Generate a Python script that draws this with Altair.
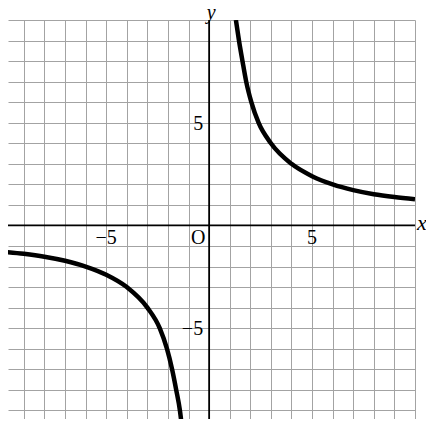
import altair as alt
import pandas as pd

# Curve (two branches)
upper_x = [1.3, 1.45, 1.62, 1.8, 2.05, 2.4, 3.0, 4.0, 5.0, 6.0, 7.0, 8.0, 9.0, 10.0]
upper_y = [10.0, 9.0, 8.0, 7.0, 6.0, 5.0, 4.0, 3.0, 2.4, 2.0, 1.72, 1.52, 1.38, 1.27]
lower_x = [-10.0, -9.0, -8.0, -7.0, -6.0, -5.0, -4.0, -3.0, -2.4, -2.05, -1.8, -1.6, -1.42, -1.3]
lower_y = [-1.28, -1.38, -1.52, -1.72, -2.0, -2.4, -3.0, -4.0, -5.0, -6.0, -7.0, -8.0, -9.0, -10.0]

x_grid = list(range(-9, 11))
y_grid = list(range(-9, 11))
x_tick_values = [-5, 5]
x_tick_labels = ["−5", "5"]
y_tick_values = [5, -5]
y_tick_labels = ["5", "−5"]
origin_label = "O"
x_name = "x"
y_name = "y"

curve = pd.DataFrame({
    "x": upper_x + lower_x,
    "y": upper_y + lower_y,
    "branch": ["upper"] * len(upper_x) + ["lower"] * len(lower_x),
})

# visible window of the [-10, 10] x [-10, 10] grid
xs = alt.Scale(domain=[-9.77, 10], nice=False, zero=False)
ys = alt.Scale(domain=[-9.42, 10], nice=False, zero=False)
grid_style = dict(grid=True, labels=False, ticks=False, domain=False, title=None,
                  gridColor="#a3a3a3", gridWidth=1, gridOpacity=1)
xax = alt.Axis(values=x_grid, **grid_style)
yax = alt.Axis(values=y_grid, **grid_style)


def X():
    return alt.X("x:Q", scale=xs, axis=xax)


def Y():
    return alt.Y("y:Q", scale=ys, axis=yax)


line = alt.Chart(curve).mark_line(
    color="black", strokeWidth=4.5, interpolate="monotone", clip=True
).encode(x=X(), y=Y(), detail="branch:N")

hline = alt.Chart(pd.DataFrame({"y": [0]})).mark_rule(
    color="black", strokeWidth=1.8
).encode(y=Y())
vline = alt.Chart(pd.DataFrame({"x": [0]})).mark_rule(
    color="black", strokeWidth=1.8
).encode(x=X())

serif = "Liberation Serif"

xt = alt.Chart(pd.DataFrame({"x": x_tick_values, "y": [0, 0], "label": x_tick_labels})).mark_text(
    font=serif, fontSize=20, align="center", baseline="middle", dy=13, color="black"
).encode(x=X(), y=Y(), text="label:N")

ot = alt.Chart(pd.DataFrame({"x": [0], "y": [0], "label": [origin_label]})).mark_text(
    font=serif, fontSize=20, align="center", baseline="middle", dx=-11, dy=13, color="black"
).encode(x=X(), y=Y(), text="label:N")

yt = alt.Chart(pd.DataFrame({"x": [0, 0], "y": y_tick_values, "label": y_tick_labels})).mark_text(
    font=serif, fontSize=20, align="right", baseline="middle", dx=-6, dy=1, color="black"
).encode(x=X(), y=Y(), text="label:N")

xn = alt.Chart(pd.DataFrame({"x": [10], "y": [0], "label": [x_name]})).mark_text(
    font=serif, fontSize=22, fontStyle="italic", align="left", baseline="alphabetic",
    dx=2, dy=5, color="black"
).encode(x=X(), y=Y(), text="label:N")

yn = alt.Chart(pd.DataFrame({"x": [0], "y": [10], "label": [y_name]})).mark_text(
    font=serif, fontSize=20, fontStyle="italic", align="center", baseline="alphabetic",
    dx=2, dy=-1, color="black"
).encode(x=X(), y=Y(), text="label:N")

chart = alt.layer(line, hline, vline, xt, ot, yt, xn, yn).properties(
    width=407, height=399,
    autosize=alt.AutoSizeParams(type="none"),
    padding={"left": 0, "top": 12, "right": 11, "bottom": 0},
    background="white",
).configure_view(stroke=None)

chart.save("out.html", embed_options={"renderer": "svg", "actions": False})
